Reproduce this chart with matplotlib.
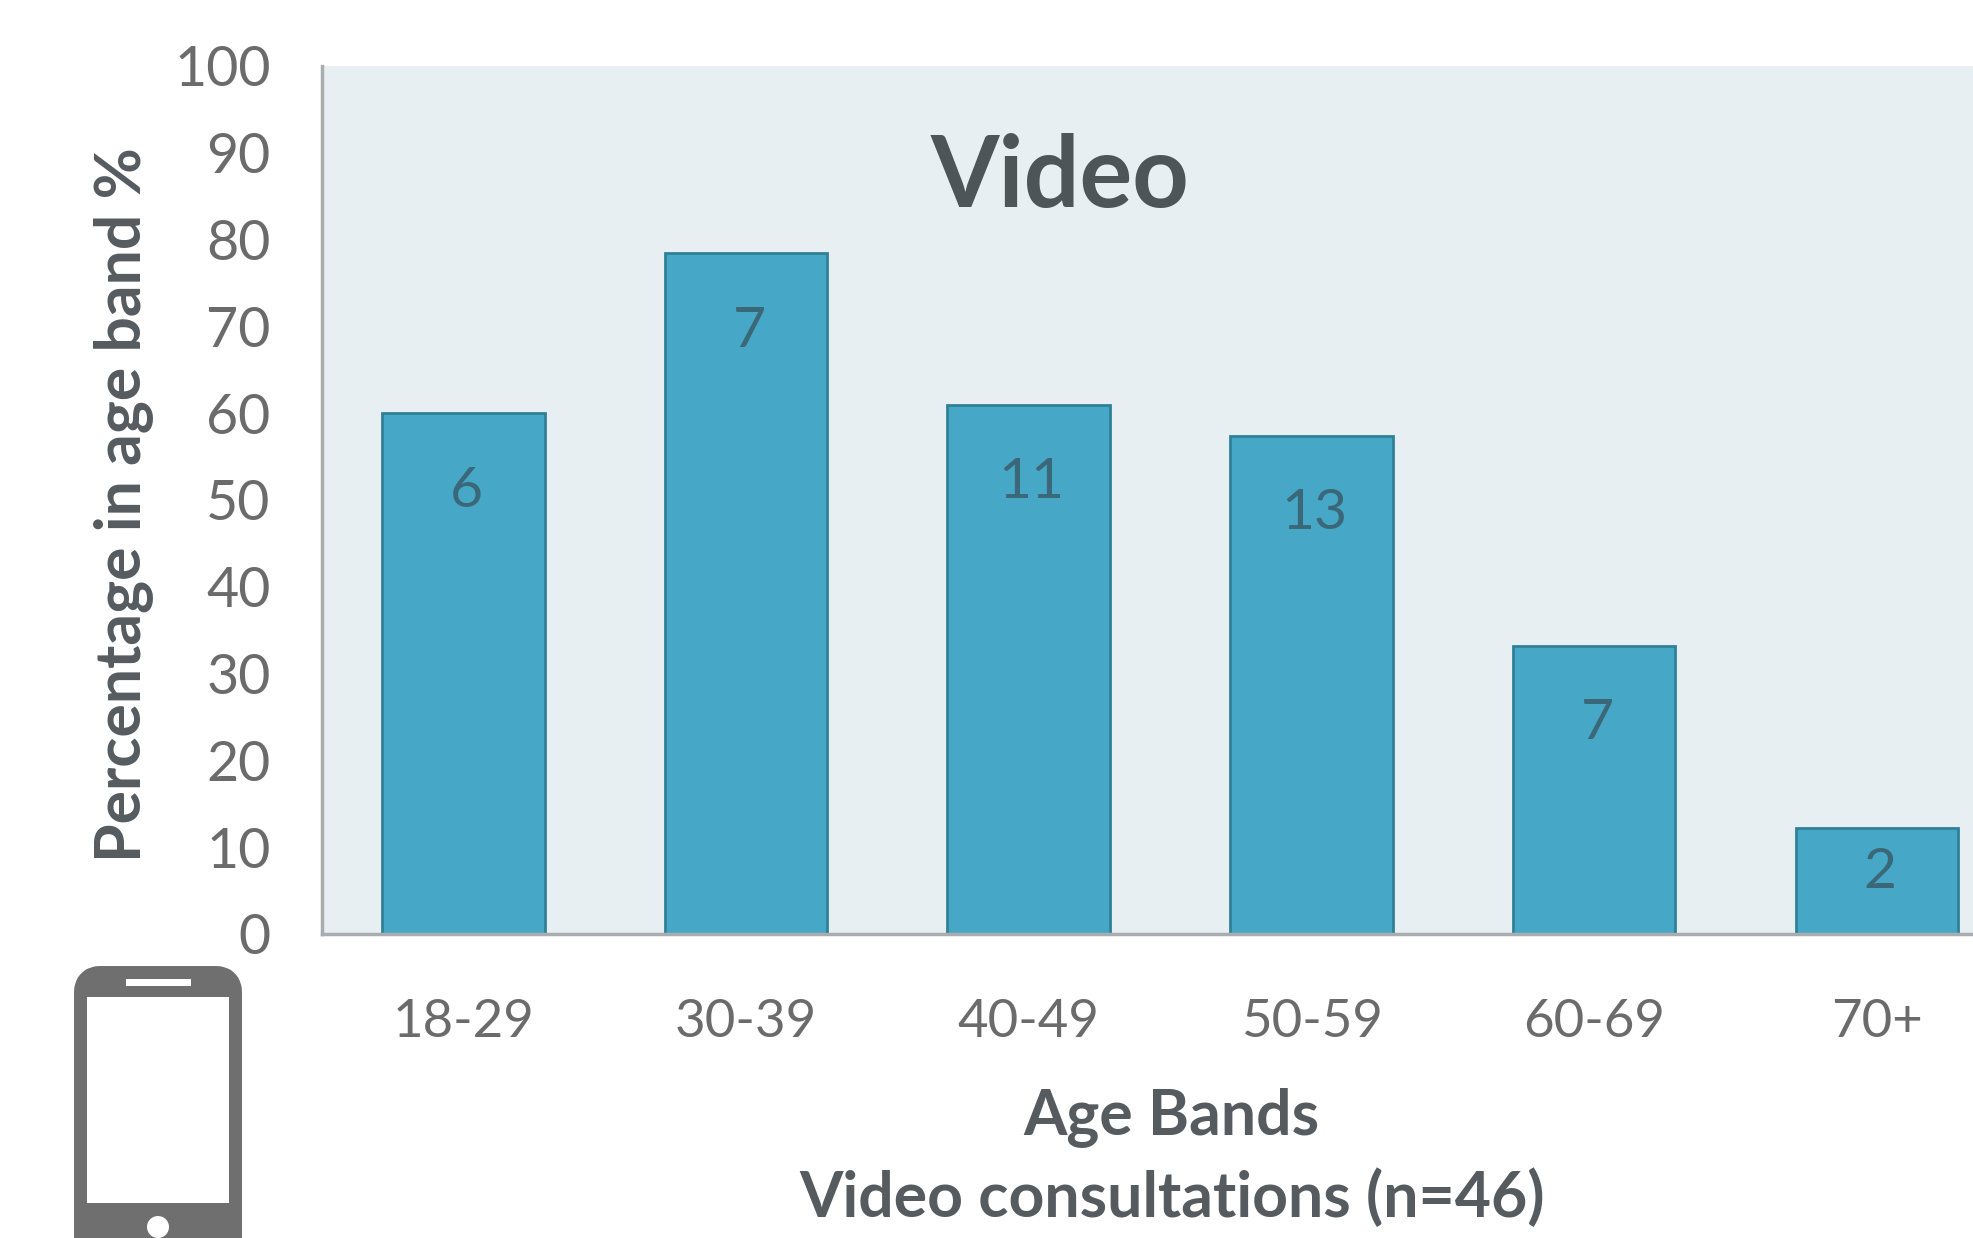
import matplotlib
matplotlib.use('Agg')
import matplotlib.pyplot as plt
from matplotlib.patches import FancyBboxPatch, Rectangle, Circle

age_bands = ['18-29', '30-39', '40-49', '50-59', '60-69', '70+']
percentages = [60, 78.4, 61, 57.4, 33.2, 12.2]
counts = [6, 7, 11, 13, 7, 2]
y_ticks = list(range(0, 101, 10))

W, H = 1973, 1238
plt.rcParams['font.family'] = ['Lato', 'DejaVu Sans']

fig = plt.figure(figsize=(W / 100, H / 100), dpi=100, facecolor='white')
ax = fig.add_axes([322 / W, 1 - 934 / H, (W - 322) / W, (934 - 66) / H])
ax.set_facecolor('#e8eff3')

xs = list(range(len(age_bands)))
ax.bar(xs, percentages, width=0.575, color='#46a8c6', edgecolor='#2f8198', linewidth=2, zorder=2)
for x, p, c in zip(xs, percentages, counts):
    # short bars get their count closer to the top edge
    drop = -78 if p > 20 else -44
    ax.annotate(str(c), (x, p), xytext=(3, drop), textcoords='offset pixels',
                ha='center', va='center', fontsize=41, color='#3b6878', zorder=3)

ax.set_xlim(-0.5, 5.34)
ax.set_ylim(0, 100)
ax.set_yticks(y_ticks)
ax.set_xticks(xs, age_bands)
ax.tick_params(axis='x', length=0, labelsize=38, labelcolor='#6b6b6b', pad=47)
ax.tick_params(axis='y', length=0, labelsize=40, labelcolor='#6b6b6b', pad=37)
for name in ('top', 'right'):
    ax.spines[name].set_visible(False)
for name in ('left', 'bottom'):
    ax.spines[name].set_color('#a9adb0')
    ax.spines[name].set_linewidth(2.5)

# title and axis captions sit at fixed spots on the page
fig.text(1060 / W, 1 - 178 / H, 'Video', fontsize=71, fontweight='bold', color='#4d5559', ha='center', va='center')
fig.text(123 / W, 1 - 505 / H, 'Percentage in age band %', fontsize=45, fontweight='bold', color='#555b5f',
         rotation=90, ha='center', va='center')
fig.text(1171 / W, 1 - 1117 / H, 'Age Bands', fontsize=45, fontweight='bold', color='#555b5f', ha='center', va='center')
fig.text(1172 / W, 1 - 1198 / H, 'Video consultations (n=46)', fontsize=45, fontweight='bold', color='#555b5f',
         ha='center', va='center')

# phone icon, drawn in page pixels
icon = fig.add_axes([0, 0, 1, 1], facecolor='none')
icon.set_xlim(0, W)
icon.set_ylim(H, 0)
icon.axis('off')
grey = '#6f6f6f'
icon.add_patch(FancyBboxPatch((90, 982), 136, 300, boxstyle='round,pad=0,rounding_size=1', mutation_scale=10,
                              facecolor=grey, edgecolor=grey, linewidth=23, joinstyle='round'))
icon.add_patch(Rectangle((87, 997), 142, 206, facecolor='white', edgecolor='none'))
icon.add_patch(Rectangle((126, 979), 65, 7, facecolor='white', edgecolor='none'))
icon.add_patch(Circle((158, 1227), 11, facecolor='white', edgecolor='none'))

fig.savefig('out.png', dpi=100)
